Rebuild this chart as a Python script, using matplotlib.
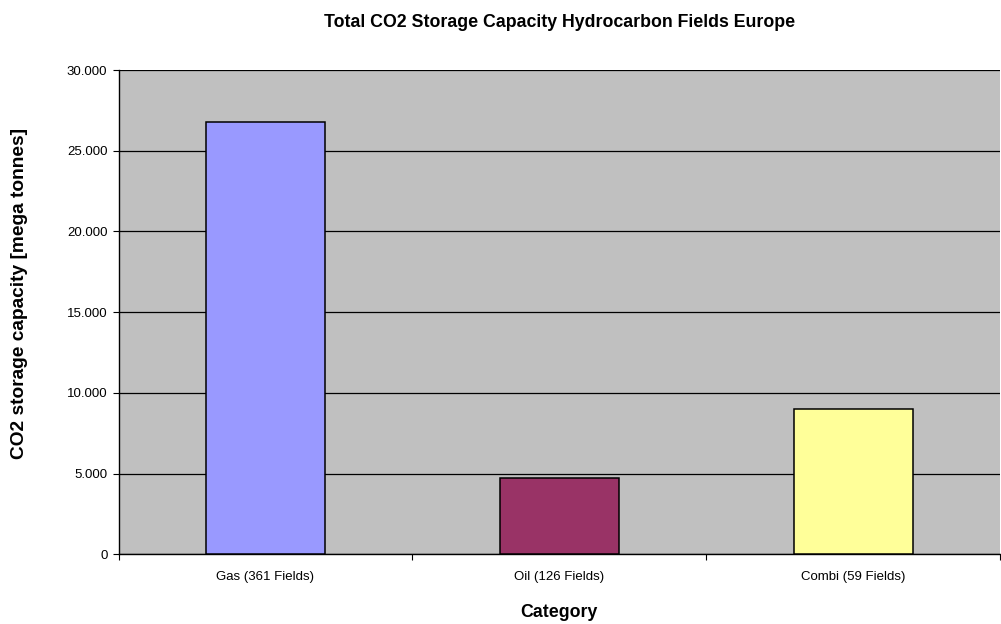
import matplotlib
matplotlib.use("Agg")
import matplotlib.pyplot as plt
from matplotlib.ticker import FuncFormatter, FixedLocator

categories = ["Gas (361 Fields)", "Oil (126 Fields)", "Combi (59 Fields)"]
capacity = [26780, 4710, 8985]
bar_colors = ["#9999FF", "#993366", "#FFFF99"]
y_ticks = [0, 5000, 10000, 15000, 20000, 25000, 30000]

plt.rcParams["font.family"] = ["Liberation Sans", "DejaVu Sans"]

W, H = 1001, 624
fig = plt.figure(figsize=(W / 100, H / 100), dpi=100)
fig.patch.set_facecolor("white")
ax = fig.add_axes([0.1184, 0.1117, 0.8806, 0.7761])
ax.set_facecolor("#C0C0C0")

x = list(range(len(categories)))
ax.bar(x, capacity, width=0.405, color=bar_colors, edgecolor="black",
       linewidth=1.1, zorder=3)

ax.set_xlim(-0.5, len(categories) - 0.5)
ax.set_ylim(0, 30000)
ax.set_yticks(y_ticks)
ax.yaxis.set_major_formatter(
    FuncFormatter(lambda v, p: f"{int(v):,}".replace(",", ".")))
ax.grid(axis="y", color="black", linewidth=0.9, zorder=1)

ax.set_xticks(x)
ax.set_xticklabels(categories, fontsize=9.5)
ax.tick_params(axis="x", length=0, pad=12)
ax.xaxis.set_minor_locator(FixedLocator([-0.5, 0.5, 1.5, 2.5]))
ax.tick_params(axis="x", which="minor", length=4, direction="out", width=0.8)
ax.tick_params(axis="y", labelsize=9.5, length=4, width=0.8, pad=4)

for side in ["top", "right"]:
    ax.spines[side].set_visible(False)
ax.spines["left"].set_linewidth(1.0)
ax.spines["bottom"].set_linewidth(1.0)

ax.set_title("Total CO2 Storage Capacity Hydrocarbon Fields Europe",
             fontsize=12.8, fontweight="bold", pad=31)
ax.set_xlabel("Category", fontsize=12.8, fontweight="bold", labelpad=15)
fig.text(20 / W, 1 - 293 / H, "CO2 storage capacity [mega tonnes]",
         rotation=90, ha="center", va="center", fontsize=13.8,
         fontweight="bold")

fig.savefig("out.png", dpi=100)
